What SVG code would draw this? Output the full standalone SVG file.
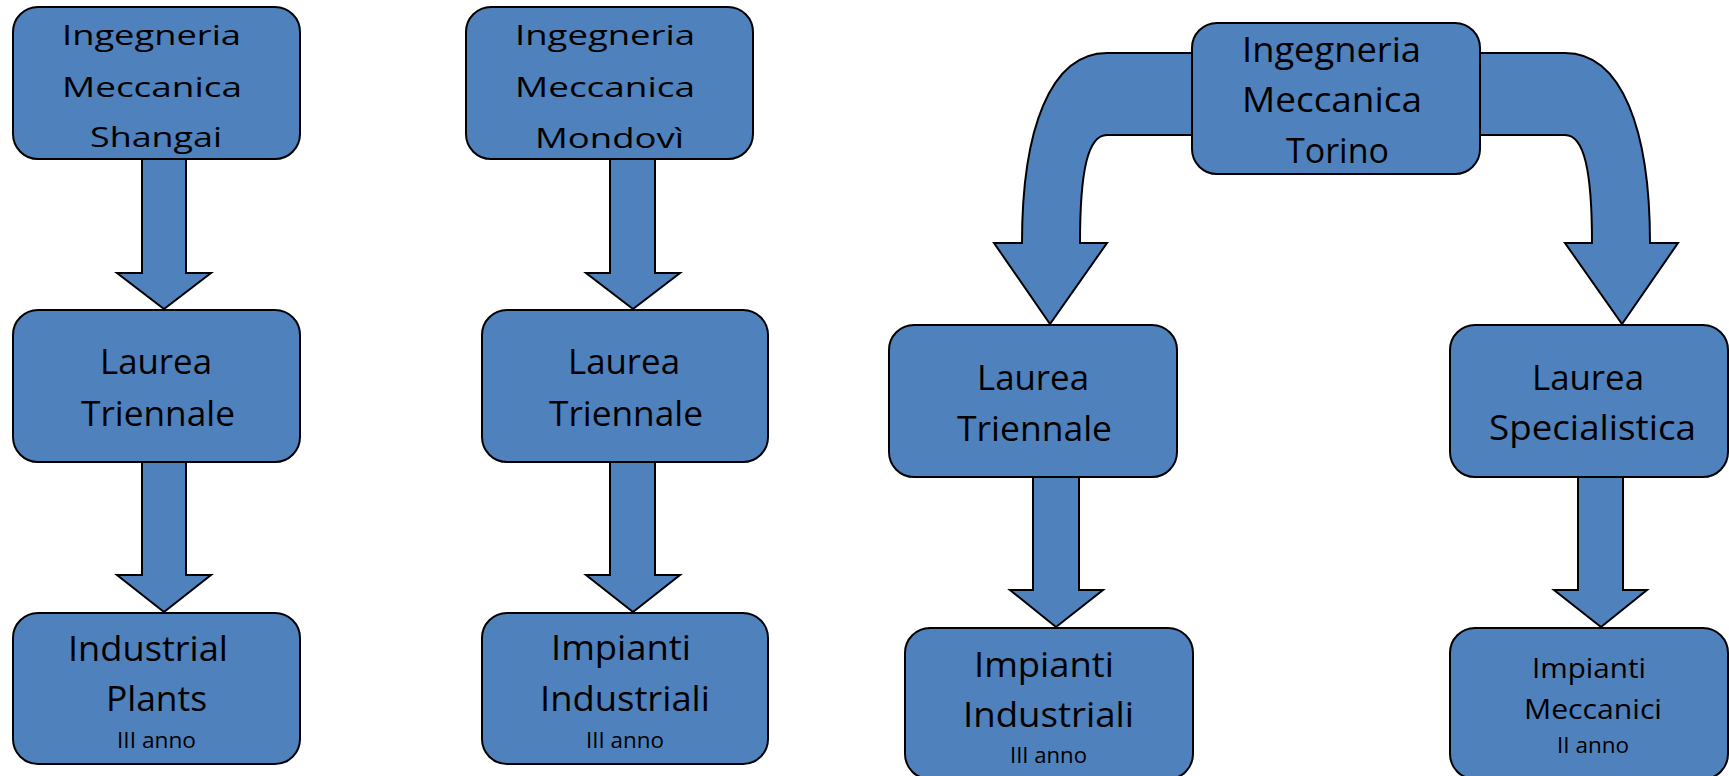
<svg xmlns="http://www.w3.org/2000/svg" width="1729" height="776" viewBox="0 0 1729 776">
<style>
.box{fill:#4F81BD;stroke:#000;stroke-width:2}
.arr{fill:#4F81BD;stroke:#000;stroke-width:2;stroke-linejoin:miter}
.t{font-family:"Open Sans","Noto Sans",sans-serif;font-size:35px;fill:#000}
.s{font-family:"Open Sans","Noto Sans",sans-serif;font-size:21px;fill:#000}
.m{font-family:"Open Sans","Noto Sans",sans-serif;font-size:28px;fill:#000}
</style>
<rect width="1729" height="776" fill="#fff"/>
<g id="connectors">
<polygon class="arr" points="142,159 186,159 186,273 211,273 164,309 117,273 142,273"/>
<polygon class="arr" points="142,462 186,462 186,575 211,575 164,612 117,575 142,575"/>
<polygon class="arr" points="610,159 655,159 655,273 680,273 633,309 586,273 610,273"/>
<polygon class="arr" points="610,462 655,462 655,575 680,575 633,612 586,575 610,575"/>
<polygon class="arr" points="1033,477 1079,477 1079,590 1103,590 1056,627 1010,590 1033,590"/>
<polygon class="arr" points="1578,477 1623,477 1623,590 1647,590 1601,627 1554,590 1578,590"/>
<path class="arr" d="M 1192 53 L 1107 53 C 1050 53 1022 130 1022 243 L 994 243 L 1050 324 L 1107 243 L 1080 243 C 1080 170 1088 135 1107 135 L 1192 135 Z"/>
<path class="arr" d="M 1480 53 L 1565 53 C 1622 53 1650 130 1650 243 L 1678 243 L 1622 324 L 1565 243 L 1592 243 C 1592 170 1584 135 1565 135 L 1480 135 Z"/>
</g>
<g id="shangai">
<rect class="box" x="13" y="7" width="287" height="152" rx="25"/>
<g transform="scale(1,0.8)">
<text class="t" x="62" y="56.25" textLength="179" lengthAdjust="spacingAndGlyphs">Ingegneria</text>
<text class="t" x="62" y="121.25" textLength="180" lengthAdjust="spacingAndGlyphs">Meccanica</text>
<text class="t" x="90" y="183.75" textLength="132" lengthAdjust="spacingAndGlyphs">Shangai</text>
</g>
</g>
<g id="shangai-laurea">
<rect class="box" x="13" y="310" width="287" height="152" rx="25"/>
<text class="t" x="100" y="374" textLength="112" lengthAdjust="spacingAndGlyphs">Laurea</text>
<text class="t" x="81" y="426" textLength="154" lengthAdjust="spacingAndGlyphs">Triennale</text>
</g>
<g id="shangai-plants">
<rect class="box" x="13" y="613" width="287" height="151" rx="25"/>
<text class="t" x="68" y="661" textLength="160" lengthAdjust="spacingAndGlyphs">Industrial</text>
<text class="t" x="106" y="711" textLength="101" lengthAdjust="spacingAndGlyphs">Plants</text>
<text class="s" x="117" y="748" textLength="79" lengthAdjust="spacingAndGlyphs">III anno</text>
</g>
<g id="mondovi">
<rect class="box" x="466" y="7" width="287" height="152" rx="25"/>
<g transform="scale(1,0.8)">
<text class="t" x="515" y="56.25" textLength="180" lengthAdjust="spacingAndGlyphs">Ingegneria</text>
<text class="t" x="515" y="121.25" textLength="180" lengthAdjust="spacingAndGlyphs">Meccanica</text>
<text class="t" x="535" y="185" textLength="149" lengthAdjust="spacingAndGlyphs">Mondovì</text>
</g>
</g>
<g id="mondovi-laurea">
<rect class="box" x="482" y="310" width="286" height="152" rx="25"/>
<text class="t" x="568" y="374" textLength="112" lengthAdjust="spacingAndGlyphs">Laurea</text>
<text class="t" x="549" y="426" textLength="154" lengthAdjust="spacingAndGlyphs">Triennale</text>
</g>
<g id="mondovi-impianti">
<rect class="box" x="482" y="613" width="286" height="151" rx="25"/>
<text class="t" x="551" y="660" textLength="140" lengthAdjust="spacingAndGlyphs">Impianti</text>
<text class="t" x="540" y="711" textLength="170" lengthAdjust="spacingAndGlyphs">Industriali</text>
<text class="s" x="586" y="748" textLength="78" lengthAdjust="spacingAndGlyphs">III anno</text>
</g>
<g id="torino">
<rect class="box" x="1192" y="23" width="288" height="151" rx="25"/>
<text class="t" x="1242" y="62" textLength="179" lengthAdjust="spacingAndGlyphs">Ingegneria</text>
<text class="t" x="1242" y="112" textLength="180" lengthAdjust="spacingAndGlyphs">Meccanica</text>
<text class="t" x="1286" y="163" textLength="103" lengthAdjust="spacingAndGlyphs">Torino</text>
</g>
<g id="torino-triennale">
<rect class="box" x="889" y="325" width="288" height="152" rx="25"/>
<text class="t" x="977" y="390" textLength="112" lengthAdjust="spacingAndGlyphs">Laurea</text>
<text class="t" x="957" y="441" textLength="155" lengthAdjust="spacingAndGlyphs">Triennale</text>
</g>
<g id="torino-impianti">
<rect class="box" x="905" y="628" width="288" height="151" rx="25"/>
<text class="t" x="974" y="677" textLength="140" lengthAdjust="spacingAndGlyphs">Impianti</text>
<text class="t" x="963" y="727" textLength="171" lengthAdjust="spacingAndGlyphs">Industriali</text>
<text class="s" x="1010" y="763" textLength="77" lengthAdjust="spacingAndGlyphs">III anno</text>
</g>
<g id="torino-specialistica">
<rect class="box" x="1450" y="325" width="278" height="152" rx="25"/>
<text class="t" x="1532" y="390" textLength="112" lengthAdjust="spacingAndGlyphs">Laurea</text>
<text class="t" x="1489" y="440" textLength="207" lengthAdjust="spacingAndGlyphs">Specialistica</text>
</g>
<g id="torino-meccanici">
<rect class="box" x="1450" y="628" width="278" height="151" rx="25"/>
<text class="m" x="1532" y="678" textLength="114" lengthAdjust="spacingAndGlyphs">Impianti</text>
<text class="m" x="1524" y="719" textLength="138" lengthAdjust="spacingAndGlyphs">Meccanici</text>
<text class="s" x="1557" y="753" textLength="72" lengthAdjust="spacingAndGlyphs">II anno</text>
</g>
</svg>
